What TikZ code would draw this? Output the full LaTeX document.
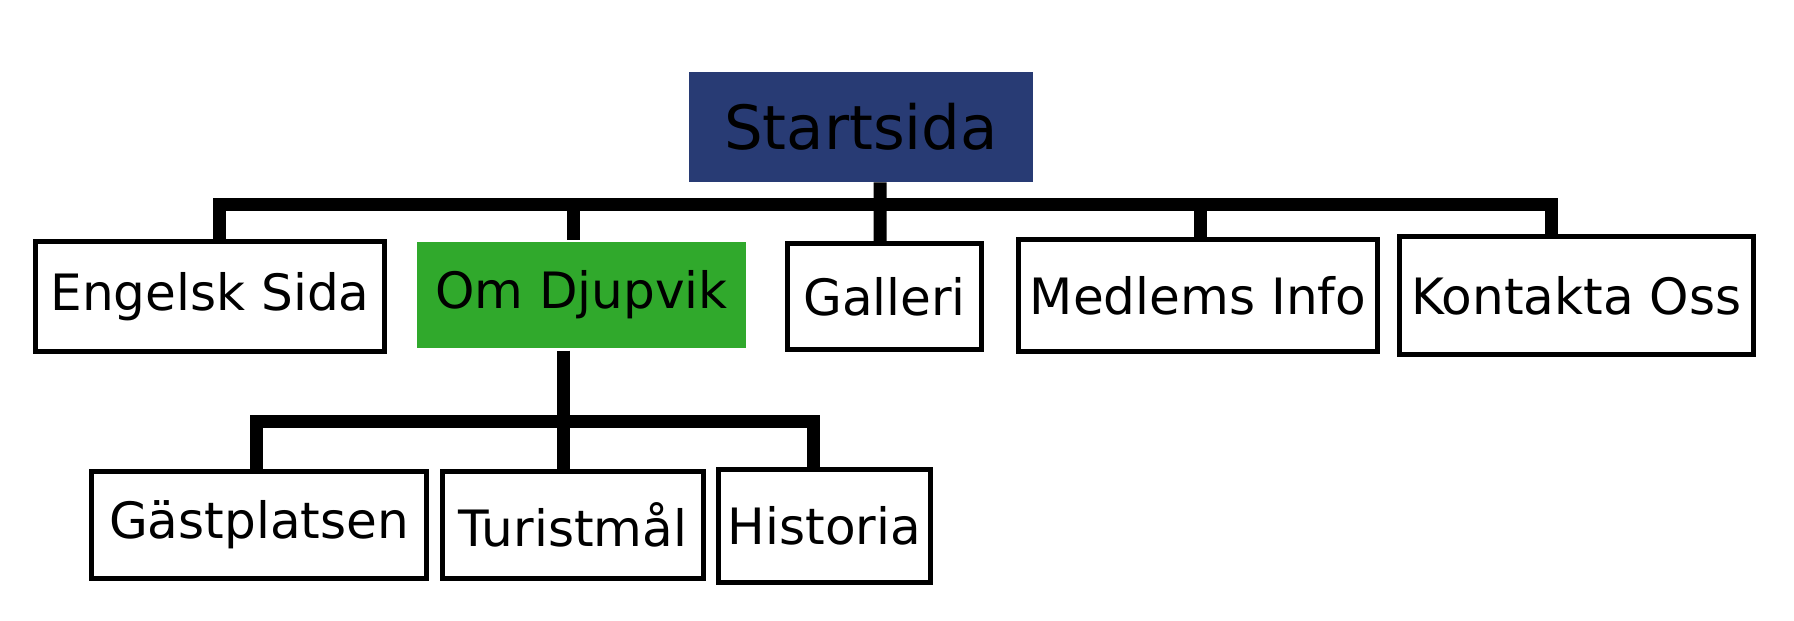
\documentclass[tikz,border=0pt]{standalone}
\usepackage{fontspec}
\setmainfont{DejaVu Sans}
\usepackage{xcolor}
\usepackage{tikz}
\definecolor{startblue}{RGB}{40,59,116}
\definecolor{omgreen}{RGB}{48,169,44}

\begin{document}
\begin{tikzpicture}[
  page/.style={draw=black,line width=0.1cm,fill=white,inner sep=0pt,
    font=\fontsize{28.5}{34}\selectfont},
  link/.style={line width=0.26cm,line join=miter}]
  \useasboundingbox (0,0) rectangle (35.88,12.4);

  \node[fill=startblue,inner sep=0pt,minimum width=6.88cm,minimum height=2.2cm,
  font=\fontsize{34.7}{40}\selectfont] (start) at (17.22,9.86) {Startsida};

  \node[page,minimum width=6.98cm,minimum height=2.2cm] (eng) at (4.2,6.47) {Engelsk Sida};
  \node[page,draw=none,fill=omgreen,minimum width=6.58cm,minimum height=2.12cm] (om) at (11.63,6.5) {Om Djupvik};
  \node[page,minimum width=3.88cm,minimum height=2.12cm] (gal) at (17.69,6.47) {Galleri};
  \node[page,minimum width=7.18cm,minimum height=2.24cm] (med) at (23.96,6.49) {Medlems Info};
  \node[page,minimum width=7.08cm,minimum height=2.36cm] (kon) at (31.53,6.49) {Kontakta Oss};

  \node[page,minimum width=6.7cm,minimum height=2.14cm] (gas) at (5.18,1.9) {Gästplatsen};
  \node[page,minimum width=5.22cm,minimum height=2.14cm] (tur) at (11.46,1.9) {Turistmål};
  \node[page,minimum width=4.24cm,minimum height=2.26cm] (his) at (16.49,1.88) {Historia};

  \coordinate (top) at (17.6,8.32);
  \coordinate (sub) at (11.26,3.98);

  % first level
  \draw[link] ([xshift=0.18cm]eng.north) |- (top) -| ([xshift=-0.51cm]kon.north);
  \draw[link] ([xshift=0.38cm]start.south) -- ([xshift=-0.09cm]gal.north);
  \draw[link] ([xshift=-0.17cm]om.north) -- ([xshift=-0.17cm]om.north |- top);
  \draw[link] ([xshift=0.04cm]med.north) -- ([xshift=0.04cm]med.north |- top);

  % under Om Djupvik
  \draw[link] ([xshift=-0.37cm]om.south) -- ([xshift=-0.2cm]tur.north);
  \draw[link] ([xshift=-0.06cm]gas.north) |- (sub) -| ([xshift=-0.23cm]his.north);

\end{tikzpicture}
\end{document}
